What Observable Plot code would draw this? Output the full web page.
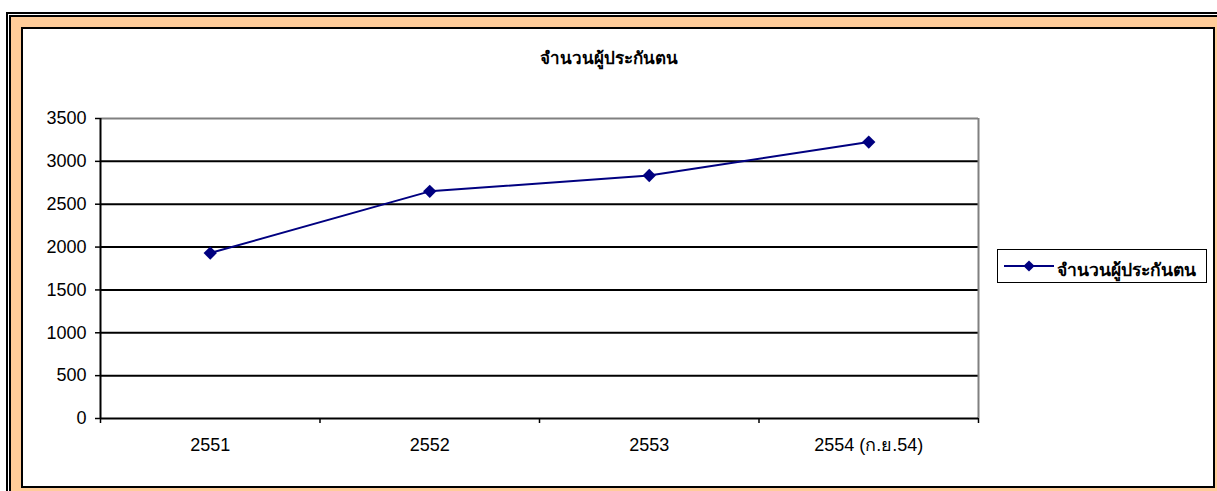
<!DOCTYPE html>
<html>
<head>
<meta charset="utf-8">
<script src="https://cdn.jsdelivr.net/npm/d3@7"></script>
<script src="https://cdn.jsdelivr.net/npm/@observablehq/plot@0.6"></script>
<style>
  html, body { margin: 0; padding: 0; width: 1217px; height: 491px; overflow: hidden; background: #fff; }
  .l1 { position: absolute; left: 6px; top: 12px; width: 1400px; height: 700px; border-left: 2px solid #000; border-top: 2px solid #000; background: #fff; }
  .l2 { position: absolute; left: 9px; top: 15px; width: 1400px; height: 700px; border-left: 2px solid #000; border-top: 2px solid #000; background: #FFCC99; }
  .panel { position: absolute; left: 21px; top: 27px; width: 1190px; height: 457px; border: 2px solid #000; background: #fff; }
  #chart { position: absolute; left: 0; top: 0; }
  #chart svg { background: transparent !important; }
  .title { position: absolute; left: 0; width: 1217px; top: 44px; text-align: center; font: bold 17px Arial, "Liberation Sans", sans-serif; color: #000; }
  .legend { position: absolute; left: 997px; top: 249px; width: 210px; height: 34px; border: 1px solid #000; background: #fff; box-sizing: border-box; }
  .legend svg { position: absolute; left: 4px; top: 5px; }
  .legend span { position: absolute; left: 59px; top: 6px; font: bold 17.5px Arial, "Liberation Sans", sans-serif; white-space: nowrap; }
</style>
</head>
<body>
<div class="l1"></div>
<div class="l2"></div>
<div class="panel"></div>
<div id="chart"></div>
<div class="title" id="title"></div>
<div class="legend" id="legend"></div>
<script>
const chartTitle = "จำนวนผู้ประกันตน";
const seriesName = "จำนวนผู้ประกันตน";
const categories = ["2551", "2552", "2553", "2554 (ก.ย.54)"];
const values = [1930, 2650, 2835, 3225];
const yTicks = [0, 500, 1000, 1500, 2000, 2500, 3000, 3500];
const gridValues = [500, 1000, 1500, 2000, 2500, 3000];

const data = categories.map((c, i) => ({i, label: c, value: values[i]}));
const idx = categories.map((_, i) => i);
const edges = [...idx.map(i => i - 0.5), categories.length - 0.5];
const navy = "#000080";

const plot = Plot.plot({
  width: 1217,
  height: 491,
  marginLeft: 100,
  marginRight: 239,
  marginTop: 118,
  marginBottom: 73,
  style: {background: "transparent", fontFamily: "Arial, 'Liberation Sans', sans-serif", fontSize: "18px", color: "#000"},
  x: {type: "linear", domain: [-0.5, categories.length - 0.5]},
  y: {domain: [0, 3500]},
  marks: [
    Plot.ruleY(gridValues, {stroke: "#000", strokeWidth: 2}),
    Plot.ruleY([3500], {stroke: "#808080", strokeWidth: 2}),
    Plot.ruleX([categories.length - 0.5], {stroke: "#808080", strokeWidth: 2}),
    Plot.ruleX([-0.5], {stroke: "#000", strokeWidth: 2}),
    Plot.ruleY([0], {stroke: "#000", strokeWidth: 2}),
    Plot.axisY({ticks: yTicks, tickSize: 5, tickPadding: 9, fontSize: 18, tickFormat: d => String(d), label: null, strokeWidth: 1.5}),
    Plot.axisX({ticks: edges, tickSize: 5, tickFormat: () => "", label: null, strokeWidth: 1.5}),
    Plot.axisX({ticks: idx, tickSize: 0, tickPadding: 20, fontSize: 18, tickFormat: i => categories[i], label: null}),
    Plot.line(data, {x: "i", y: "value", stroke: navy, strokeWidth: 2}),
    Plot.dot(data, {x: "i", y: "value", symbol: "diamond2", r: 6, fill: navy, stroke: "none"})
  ]
});
document.getElementById("chart").appendChild(plot);
document.getElementById("title").textContent = chartTitle;

// legend
const lg = document.getElementById("legend");
const sv = d3.create("svg").attr("width", 54).attr("height", 22);
sv.append("line").attr("x1", 2).attr("x2", 52).attr("y1", 11).attr("y2", 11).attr("stroke", navy).attr("stroke-width", 2);
sv.append("path").attr("d", d3.symbol(d3.symbolDiamond2, 80)()).attr("transform", "translate(27,11)").attr("fill", navy);
lg.appendChild(sv.node());
const sp = document.createElement("span");
sp.textContent = seriesName;
lg.appendChild(sp);
</script>
</body>
</html>
